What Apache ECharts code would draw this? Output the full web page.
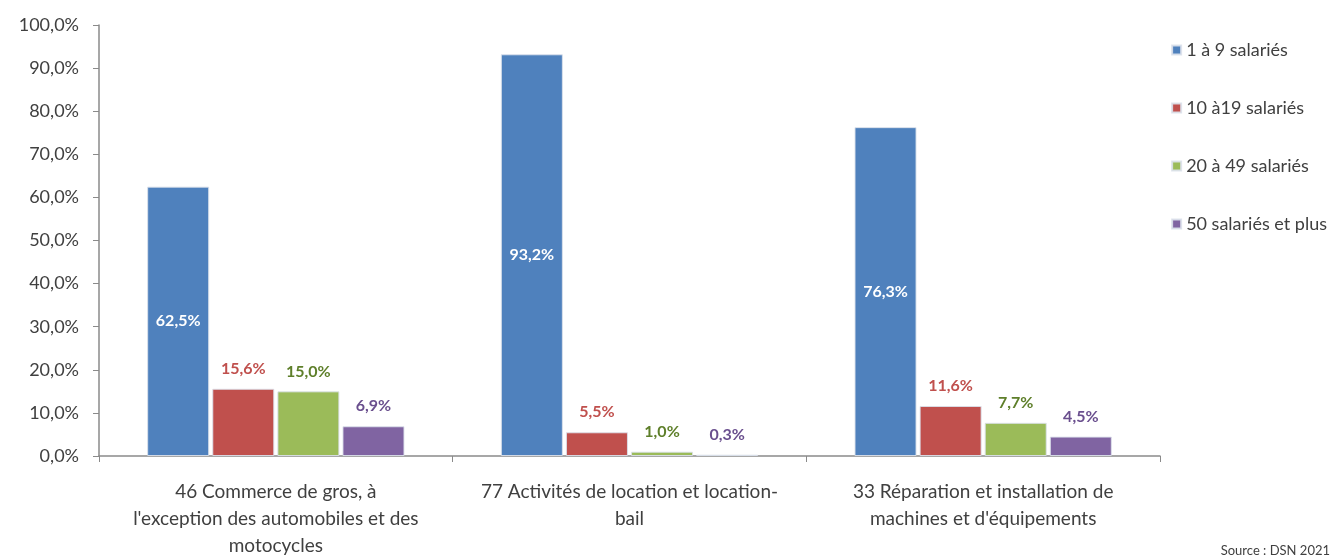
<!DOCTYPE html>
<html>
<head>
<meta charset="utf-8">
<script src="https://cdn.jsdelivr.net/npm/echarts@6/dist/echarts.min.js"></script>
<style>
  body { margin: 0; background: #fff; }
  #chart { width: 1336px; height: 559px; }
</style>
</head>
<body>
<div id="chart"></div>
<script>
const categories = [
  "46 Commerce de gros, à\nl'exception des automobiles et des\nmotocycles",
  '77 Activités de location et location-\nbail',
  "33 Réparation et installation de\nmachines et d'équipements"
]
const seriesNames = ['1 à 9 salariés', '10 à19 salariés', '20 à 49 salariés', '50 salariés et plus']
const small = [62.5, 93.2, 76.3]
const medium = [15.6, 5.5, 11.6]
const large = [15.0, 1.0, 7.7]
const xlarge = [6.9, 0.3, 4.5]
const yTicks = [0, 10, 20, 30, 40, 50, 60, 70, 80, 90, 100]

const colors = ['#4F81BD', '#C0504D', '#9BBB59', '#8064A2']
const labelColors = ['#ffffff', '#C0504D', '#5E7F2A', '#6A4F8E']
const font = 'Lato, "Open Sans", sans-serif'

const fmt = v => v.toFixed(1).replace('.', ',') + '%'

const chart = echarts.init(document.getElementById('chart'))

const makeSeries = (name, data, i) => ({
  name: name,
  type: 'bar',
  data: data,
  barWidth: 62,
  barGap: '5%',
  itemStyle: { color: colors[i], borderColor: 'rgba(220,225,235,0.9)', borderWidth: 1 },
  label: {
    show: true,
    position: i === 0 ? 'inside' : 'top',
    distance: 12,
    color: labelColors[i],
    fontFamily: font,
    fontWeight: 'bold',
    fontSize: 16,
    formatter: p => fmt(p.value)
  }
})

chart.setOption({
  animation: false,
  grid: { left: 99, right: 176, top: 25, bottom: 102 },
  legend: {
    orient: 'vertical',
    right: 4,
    top: 36,
    itemGap: 40,
    itemWidth: 9,
    itemHeight: 9,
    icon: 'rect',
    textStyle: { fontFamily: font, fontSize: 18, color: '#404040' },
    data: seriesNames
  },
  xAxis: {
    type: 'category',
    data: categories,
    axisLine: { lineStyle: { color: '#8a8a8a', width: 1.5 } },
    axisTick: { show: true, alignWithLabel: false, length: 6, lineStyle: { color: '#8a8a8a' } },
    axisLabel: {
      color: '#404040',
      fontFamily: font,
      fontSize: 19,
      lineHeight: 27,
      margin: 22,
      interval: 0
    }
  },
  yAxis: {
    type: 'value',
    min: 0,
    max: 100,
    interval: 10,
    axisLine: { show: true, lineStyle: { color: '#8a8a8a', width: 1.5 } },
    axisTick: { show: true, length: 6, lineStyle: { color: '#8a8a8a' } },
    splitLine: { show: false },
    axisLabel: {
      color: '#404040',
      fontFamily: font,
      fontSize: 18,
      margin: 20,
      formatter: v => yTicks.includes(v) ? fmt(v) : ''
    }
  },
  graphic: [{
    type: 'text',
    right: 6,
    bottom: 2,
    style: { text: 'Source : DSN 2021', fontFamily: font, fontSize: 13, fill: '#404040' }
  }],
  series: [
    makeSeries(seriesNames[0], small, 0),
    makeSeries(seriesNames[1], medium, 1),
    makeSeries(seriesNames[2], large, 2),
    makeSeries(seriesNames[3], xlarge, 3)
  ]
})
</script>
</body>
</html>
